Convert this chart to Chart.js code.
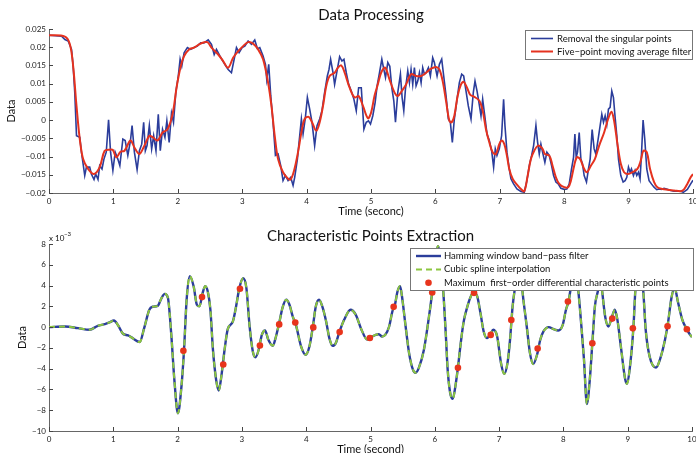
<!DOCTYPE html>
<html>
<head>
<meta charset="utf-8">
<script src="https://cdn.jsdelivr.net/npm/chart.js@4.4.1/dist/chart.umd.min.js"></script>
<style>
  body { margin: 0; background: #fff; }
  canvas { position: absolute; left: 0; }
  #topChart { top: 0; }
  #bottomChart { top: 220px; }
</style>
</head>
<body>
<canvas id="topChart" width="696" height="222"></canvas>
<canvas id="bottomChart" width="696" height="240"></canvas>
<script>
// upper plot: data processing
const rawTime = [0,.195,.247,.298,.35,.375,.40,.427,.478,.504,.555,.581,.632,.658,.699,.725,.761,.787,.823,.853,.889,.925,.956,.992,
  1.028,1.069,1.10,1.147,1.183,1.224,1.265,1.29,1.326,1.368,1.404,1.44,1.47,1.496,1.522,1.558,1.594,1.625,1.661,1.697,1.728,1.763,1.80,1.83,1.866,1.902,1.933,1.969,
  2.005,2.036,2.062,2.098,2.149,2.2,2.252,2.303,2.355,2.406,2.472,2.523,2.565,2.6,2.653,2.73,2.782,2.833,2.875,2.911,2.952,2.999,
  3.04,3.092,3.144,3.195,3.237,3.273,3.324,3.361,3.381,3.412,3.443,3.479,3.516,3.557,3.598,3.634,3.671,3.712,3.753,3.79,3.815,3.857,3.893,3.919,3.945,3.981,
  4.012,4.048,4.084,4.125,4.162,4.203,4.239,4.28,4.322,4.348,4.373,4.41,4.435,4.477,4.513,4.549,4.58,4.616,4.653,4.694,4.735,4.771,4.808,4.849,4.89,4.926,4.961,4.992,
  5.028,5.064,5.095,5.132,5.168,5.199,5.225,5.261,5.292,5.323,5.354,5.38,5.416,5.457,5.483,5.509,5.535,5.571,5.597,5.622,5.648,5.674,5.7,5.726,5.752,5.778,5.803,5.829,5.855,5.891,5.922,5.958,5.984,
  6.026,6.062,6.098,6.129,6.165,6.201,6.232,6.263,6.294,6.336,6.372,6.408,6.439,6.475,6.511,6.553,6.589,6.615,6.646,6.672,6.708,6.734,6.77,6.801,6.837,6.873,6.904,6.93,6.956,6.992,
  7.028,7.059,7.08,7.111,7.147,7.173,7.214,7.266,7.328,7.38,7.421,7.458,7.494,7.525,7.561,7.587,7.613,7.638,7.664,7.7,7.731,7.768,7.804,7.835,7.871,7.907,7.948,
  8.0,8.041,8.078,8.114,8.145,8.166,8.186,8.207,8.233,8.259,8.284,8.31,8.346,8.377,8.403,8.434,8.465,8.491,8.527,8.558,8.584,8.61,8.636,8.662,8.687,8.713,8.739,8.765,8.791,8.817,8.843,8.879,8.915,8.946,8.972,8.998,
  9.023,9.044,9.075,9.101,9.127,9.153,9.178,9.199,9.225,9.251,9.282,9.318,9.354,9.395,9.437,9.473,9.509,9.551,9.602,9.654,9.706,9.757,9.809,9.85,9.912,9.964,10];
const rawData = [.0233,.0230,.0221,.0217,.0194,.0148,.0076,-.0043,-.0047,-.0088,-.0152,-.0129,-.0129,-.0148,-.0163,-.0148,-.0163,-.0125,-.0134,-.0107,-.0088,.0001,-.0088,-.0138,
  -.0088,-.0107,-.0125,-.0052,-.0056,-.0097,-.0056,-.0015,-.0088,-.0136,-.0084,-.0066,-.0006,-.0084,-.007,-.0015,-.0079,-.0043,-.0084,.0016,-.0084,-.0025,-.0047,-.0002,-.0061,.0019,-.0006,.0076,
  .0117,.0167,.0148,.0185,.0199,.0194,.0199,.0203,.0212,.0212,.022,.0208,.018,.0194,.0176,.0153,.0139,.013,.0167,.0199,.0185,.0199,
  .0203,.0217,.0208,.022,.0196,.0199,.0176,.0153,.0112,.0153,.0067,-.0006,-.0097,-.0093,-.0125,-.0166,-.0152,-.0166,-.0157,-.0179,-.0157,-.0107,-.0043,.0003,-.0038,.0007,
  .0062,.003,-.0006,-.007,-.0015,.0003,.0026,.0076,.0121,.0139,.0167,.013,.0098,.0139,.0174,.0162,.0167,.013,.0098,.008,.0057,.0026,.0089,.0089,-.0025,-.0006,-.0002,-.0011,
  .0012,.0048,.0094,.013,.0167,.0139,.0117,.0158,.0148,.0089,.0053,-.0006,.0076,.0126,.0062,.0026,.0085,.0135,.0103,.0139,.0098,.0144,.0094,.0107,.013,.0103,.0144,.0126,.013,.0144,.0121,.0171,.0158,
  .0121,.0153,.0167,.0121,.0067,.0003,-.0006,-.0061,.0003,.0057,.0103,.0126,.0121,.008,.0039,.0003,.0076,.0107,.008,.0053,.0012,.0057,.0007,-.0038,-.0056,-.0084,-.0129,-.0079,-.0097,-.0079,
  -.0043,.0057,-.0015,-.0088,-.0134,-.0161,-.0175,-.0189,-.0196,-.0198,-.0166,-.0125,-.0097,-.007,-.0015,-.0061,-.0093,-.0066,-.0088,-.0116,-.0088,-.0097,-.0125,-.0152,-.017,-.0175,-.0187,
  -.019,-.0189,-.0175,-.0134,-.0102,-.0038,-.0102,-.0088,-.0034,-.0107,-.012,-.0152,-.017,-.0134,-.0107,-.0026,-.0079,-.0093,-.0052,-.0015,.0016,-.0006,.0012,-.0011,.003,.0035,.008,.0062,.0007,-.0043,-.0107,-.0152,-.017,-.0166,-.0157,-.0129,
  -.0143,-.0134,-.0152,-.0138,-.0152,-.0143,-.0161,-.0097,0,-.0052,-.0134,-.0166,-.0175,-.0184,-.0191,-.0189,-.019,-.0187,-.019,-.0193,-.0195,-.0195,-.0195,-.0198,-.019,-.0175,-.0165];
const avgTime = [0,.247,.324,.375,.427,.478,.53,.607,.699,.787,.864,.941,.992,1.044,1.11,1.172,1.265,1.326,1.404,1.481,1.558,1.609,1.686,1.763,1.841,1.918,1.985,
  2.046,2.098,2.175,2.252,2.355,2.458,2.523,2.627,2.704,2.782,2.859,2.937,3.014,3.092,3.169,3.247,3.324,3.402,3.454,3.505,3.557,3.634,3.712,3.753,3.805,3.867,3.919,3.97,
  4.032,4.084,4.151,4.203,4.255,4.306,4.358,4.435,4.487,4.539,4.591,4.668,4.746,4.808,4.875,4.952,5.002,5.054,5.106,5.157,5.219,5.287,5.364,5.416,5.478,5.545,5.622,5.7,5.778,5.855,5.933,
  6.01,6.062,6.113,6.165,6.217,6.253,6.294,6.346,6.398,6.439,6.491,6.542,6.604,6.682,6.734,6.785,6.837,6.889,6.94,6.992,7.028,7.07,7.111,7.147,7.199,7.266,7.328,7.38,7.43,7.483,7.535,7.597,
  7.664,7.7,7.768,7.819,7.871,7.923,8.0,8.062,8.104,8.155,8.197,8.248,8.3,8.352,8.414,8.476,8.543,8.62,8.682,8.734,8.775,8.827,8.879,8.93,8.992,9.06,9.137,9.189,9.23,9.282,9.333,9.396,
  9.447,9.524,9.602,9.706,9.809,9.86,9.912,9.964,10];
const avgData = [.0233,.0229,.0208,.0148,.0039,-.0052,-.0107,-.0134,-.0148,-.0129,-.0084,-.0081,-.0082,-.0102,-.0087,-.0084,-.0056,-.0075,-.0093,-.007,-.0043,-.0047,-.0056,-.0034,-.0025,.0016,.0094,
  .0148,.0176,.0194,.0199,.021,.0214,.0199,.018,.0162,.0144,.0171,.0189,.0203,.0214,.021,.0194,.0167,.0103,.0039,-.0043,-.0107,-.0143,-.0161,-.0163,-.0139,-.0088,-.0034,.0003,
  .0009,-.0006,-.0029,-.0006,.0039,.0094,.0121,.013,.0144,.015,.013,.0089,.0062,.0066,.0039,.0005,.0021,.0066,.0098,.013,.0144,.0112,.0076,.0066,.008,.0098,.0126,.0121,.0121,.013,.0141,
  .0146,.0139,.0107,.0053,-.0002,-.0006,.0012,.0067,.0098,.0105,.0089,.0069,.0064,.0053,.0026,-.0025,-.0061,-.0088,-.0093,-.0066,-.0056,-.0066,-.0098,-.0134,-.0161,-.0177,-.0189,-.0195,-.0155,-.0107,-.0084,-.007,
  -.0079,-.0093,-.0097,-.0125,-.0157,-.0175,-.0184,-.0184,-.0166,-.0125,-.0102,-.0107,-.013,-.0143,-.0125,-.0107,-.007,-.0034,.0003,.0023,-.0002,-.0066,-.012,-.0143,-.0148,-.0143,-.0134,-.0111,-.0084,-.0088,-.0134,-.017,
  -.0184,-.0189,-.0191,-.0193,-.0195,-.019,-.0175,-.0157,-.0148];
const topYTicks = [-0.02,-0.015,-0.01,-0.005,0,0.005,0.01,0.015,0.02,0.025];

// lower plot: characteristic points (values x 10^-3)
const filtTime = [0,.25,.45,.63,.76,.87,.94,1.01,1.07,1.15,1.23,1.30,1.41,1.48,1.56,1.61,1.69,1.75,1.80,1.85,1.9,1.95,2.005,2.06,2.1,2.14,2.19,2.25,2.3,2.34,2.39,2.43,2.47,2.51,2.55,2.6,2.64,2.68,2.73,2.78,2.86,2.91,2.96,
  3.02,3.07,3.12,3.17,3.21,3.26,3.31,3.36,3.41,3.48,3.53,3.58,3.63,3.69,3.74,3.79,3.84,3.92,3.99,4.05,4.1,4.15,4.2,4.25,4.31,4.36,4.41,4.46,4.51,4.59,4.69,4.77,4.85,4.95,
  5.0,5.08,5.13,5.18,5.23,5.29,5.34,5.38,5.42,5.46,5.49,5.54,5.6,5.66,5.7,5.75,5.83,5.91,5.96,5.99,6.05,6.1,6.13,6.17,6.2,6.24,6.28,6.32,6.36,6.41,6.45,6.5,6.55,6.6,6.66,6.71,6.76,6.81,6.86,6.91,6.97,
  7.03,7.08,7.13,7.17,7.21,7.25,7.31,7.38,7.43,7.48,7.53,7.59,7.64,7.69,7.77,7.85,7.92,7.99,8.04,8.08,8.11,8.17,8.23,8.28,8.32,8.365,8.41,8.45,8.49,8.54,8.57,8.6,8.65,8.7,8.75,8.8,8.84,8.9,8.96,8.99,
  9.03,9.09,9.12,9.18,9.24,9.28,9.34,9.44,9.5,9.58,9.63,9.68,9.73,9.78,9.85,9.91,9.97,10];
const filtData = [0,.06,-.1,-.26,.13,.29,.45,.64,.22,-.64,-.8,-1.06,-1.44,-.1,1.67,1.96,2.05,2.8,3.2,2.8,-.58,-5.1,-8.3,-5.7,-2.2,2.6,4.9,3.9,2.15,2.0,3.3,3.95,3.4,1.67,-2.2,-5.1,-6.1,-4.75,-2.2,-.2,.55,2.0,3.75,
  4.7,3.75,.06,-2.35,-2.9,-2.2,-.74,-.32,-1.2,-1.8,-.9,.39,1.83,2.63,2.15,1.03,.22,-1.86,-2.66,-1.86,-.1,2.0,2.63,2.0,.55,-1.06,-1.8,-1.54,-.58,.7,1.67,1.2,-.1,-1.2,
  -1.0,-.74,-.68,-.9,-.74,.06,1.5,2.15,3.43,3.95,2.95,.39,-2.5,-4.1,-4.4,-3.95,-2.2,1.03,3.4,5.2,7.8,5.5,3.6,-.58,-4.1,-6.36,-6.9,-5.7,-3.88,-1.2,.55,1.83,2.8,3.34,2.95,1.35,-.42,-1.06,-.74,-.26,-.9,
  -3.47,-4.5,-3.47,-1.22,2.0,3.9,6.0,2.5,.06,-2.5,-3.55,-2.66,-1.22,-.42,0,-.2,-.32,.22,1.67,2.47,3.6,6.0,3.6,.06,-3.1,-7.4,-5.1,-1.54,2.0,3.6,5.0,3.6,1.0,.06,.87,1.67,.7,-2.2,-5.0,-5.45,
  -4.1,.06,3.6,5.5,3.6,-.26,-2.8,-3.9,-3.15,-1.22,.55,2.8,3.8,2.47,.7,-.1,-.74,-.95];
const charTime = [2.09,2.38,2.71,2.97,3.28,3.58,3.83,4.11,4.52,4.99,5.36,5.96,6.36,6.61,6.87,7.19,7.6,8.07,8.45,8.76,9.08,9.62,9.92];
const charData = [-2.28,2.89,-3.6,3.69,-1.77,.26,.45,-.03,-.48,-1.05,1.95,3.33,-3.92,3.3,-.75,.68,-2.06,2.46,-1.55,.82,-.12,.09,-.2];
const bottomYTicks = [-10,-8,-6,-4,-2,0,2,4,6,8];
const timeTicks = [0,1,2,3,4,5,6,7,8,9,10];

const pts = (xs, ys) => xs.map((x, i) => ({x: x, y: ys[i]}));
const minus = s => String(s).replace('-', '\u2212');

// titles, inward ticks, exponent and boxed legend drawn over the plot
const decor = {
  id: 'decor',
  afterDraw(chart, args, o) {
    const {ctx, chartArea: a, scales} = chart;
    ctx.save();
    ctx.strokeStyle = '#444';
    ctx.lineWidth = 1;
    ctx.beginPath();
    scales.x.ticks.forEach(t => {
      const x = Math.round(scales.x.getPixelForValue(t.value)) + 0.5;
      ctx.moveTo(x, a.bottom); ctx.lineTo(x, a.bottom - 4);
    });
    scales.y.ticks.forEach(t => {
      const y = Math.round(scales.y.getPixelForValue(t.value)) + 0.5;
      ctx.moveTo(a.left, y); ctx.lineTo(a.left + 4, y);
    });
    ctx.stroke();

    ctx.fillStyle = '#111';
    ctx.font = '15px Lato';
    ctx.textAlign = 'center';
    ctx.textBaseline = 'alphabetic';
    ctx.fillText(o.title, (a.left + a.right) / 2, o.titleY);

    if (o.exponent) {
      ctx.textAlign = 'left';
      ctx.font = '8px Lato';
      ctx.fillText('x 10', a.left, o.exponent.y);
      ctx.font = '6px Lato';
      ctx.fillText('\u22123', a.left + 15, o.exponent.y - 5);
    }

    const L = o.legend;
    ctx.fillStyle = '#fff';
    ctx.fillRect(L.x, L.y, L.w, L.h);
    ctx.strokeStyle = '#777';
    ctx.strokeRect(L.x + 0.5, L.y + 0.5, L.w, L.h);
    ctx.font = '9.5px Lato';
    ctx.textAlign = 'left';
    ctx.textBaseline = 'middle';
    chart.data.datasets.forEach((ds, i) => {
      const y = L.y + L.first + i * L.step;
      if (ds.showLine === false) {
        ctx.fillStyle = ds.pointBackgroundColor;
        ctx.beginPath();
        ctx.arc((L.x + L.s0 + L.x + L.s1) / 2, y, ds.pointRadius, 0, Math.PI * 2);
        ctx.fill();
      } else {
        ctx.strokeStyle = ds.borderColor;
        ctx.lineWidth = ds.borderWidth;
        ctx.setLineDash(ds.borderDash || []);
        ctx.beginPath();
        ctx.moveTo(L.x + L.s0, y); ctx.lineTo(L.x + L.s1, y);
        ctx.stroke();
        ctx.setLineDash([]);
      }
      ctx.fillStyle = '#111';
      ctx.fillText(ds.label, L.x + L.tx, y);
    });
    ctx.restore();
  }
};

function axes(yMin, yMax, yTicks, yFmt, yTitlePad, xTitle, xHeight) {
  return {
    x: {
      type: 'linear', min: 0, max: 10,
      afterBuildTicks: s => { s.ticks = timeTicks.map(v => ({value: v})); },
      afterFit: s => { s.height = xHeight; s.paddingLeft = 0; s.paddingRight = 0; },
      grid: {display: true, drawOnChartArea: false, drawTicks: false},
      border: {display: true, color: '#666', width: 1},
      ticks: {padding: 4, color: '#222', font: {family: 'Lato', size: 8}, maxRotation: 0, autoSkip: false},
      title: {display: true, text: xTitle, color: '#111', font: {family: 'Lato', size: 11}, padding: {top: 0, bottom: 4}}
    },
    y: {
      min: yMin, max: yMax,
      afterBuildTicks: s => { s.ticks = yTicks.map(v => ({value: v})); },
      afterFit: s => { s.width = 49; s.paddingTop = 0; s.paddingBottom = 0; },
      grid: {display: true, drawOnChartArea: false, drawTicks: false},
      border: {display: true, color: '#666', width: 1},
      ticks: {padding: 3, color: '#222', font: {family: 'Lato', size: 8}, autoSkip: false, callback: yFmt},
      title: {display: true, text: 'Data', color: '#111', font: {family: 'Lato', size: 11}, padding: {top: yTitlePad, bottom: 0}}
    }
  };
}

// lower "order" is painted later, i.e. on top
new Chart(document.getElementById('topChart'), {
  type: 'line',
  data: {
    datasets: [
      {label: 'Removal the singular points', data: pts(rawTime, rawData), order: 2, borderColor: '#2b3d9b', borderWidth: 1.6, pointRadius: 0, tension: 0},
      {label: 'Five\u2212point moving average filter', data: pts(avgTime, avgData), order: 1, borderColor: '#e5321f', borderWidth: 2, pointRadius: 0, tension: 0.35}
    ]
  },
  options: {
    responsive: false, animation: false, devicePixelRatio: 1,
    layout: {padding: {top: 29, right: 3, left: 0, bottom: 0}},
    plugins: {
      legend: {display: false}, tooltip: {enabled: false},
      decor: {title: 'Data Processing', titleY: 20,
        legend: {x: 525, y: 30, w: 167, h: 29, first: 8.5, step: 13, s0: 6, s1: 28, tx: 32}}
    },
    scales: axes(-0.02, 0.025, topYTicks, v => minus(Math.round(v * 1000) / 1000), 5, 'Time (seconc)', 29)
  },
  plugins: [decor]
});

new Chart(document.getElementById('bottomChart'), {
  type: 'line',
  data: {
    datasets: [
      {label: 'Hamming window band\u2212pass filter', data: pts(filtTime, filtData), order: 3, borderColor: '#2b3d9b', borderWidth: 2.4, pointRadius: 0, cubicInterpolationMode: 'monotone'},
      {label: 'Cubic spline interpolation', data: pts(filtTime, filtData), order: 2, borderColor: '#8cc63f', borderWidth: 2, borderDash: [6, 4], pointRadius: 0, cubicInterpolationMode: 'monotone'},
      {label: 'Maximum  first\u2212order differential characteristic points', data: pts(charTime, charData), order: 1, showLine: false, pointRadius: 3.3, pointBackgroundColor: '#e8341c', pointBorderWidth: 0, borderColor: '#e8341c'}
    ]
  },
  options: {
    responsive: false, animation: false, devicePixelRatio: 1,
    layout: {padding: {top: 24, right: 3, left: 0, bottom: 0}},
    plugins: {
      legend: {display: false}, tooltip: {enabled: false},
      decor: {title: 'Characteristic Points Extraction', titleY: 21, exponent: {y: 21},
        legend: {x: 410, y: 28, w: 283, h: 42, first: 8, step: 13.4, s0: 6, s1: 31, tx: 34}}
    },
    scales: axes(-10, 8, bottomYTicks, v => minus(v), 16, 'Time (second)', 29)
  },
  plugins: [decor]
});
</script>
</body>
</html>
